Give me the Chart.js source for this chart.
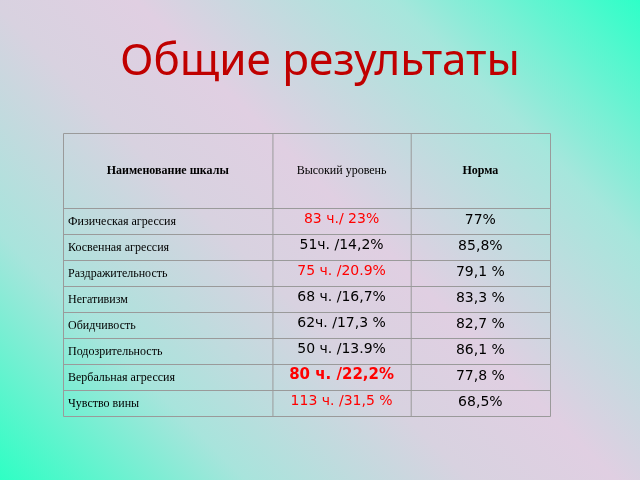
<!DOCTYPE html>
<html><head><meta charset="utf-8">
<script src="https://cdn.jsdelivr.net/npm/chart.js@4/dist/chart.umd.min.js"></script>
<style>
html,body{margin:0;padding:0;width:640px;height:480px;overflow:hidden;
background:linear-gradient(45deg,#2effc4 0%,#a8e4dc 22%,#d8d2e0 42%,#e0cfe2 55%,#a6e6dc 78%,#2effc8 100%);}
#c{display:block}
</style></head><body>
<canvas id="c" width="640" height="480"></canvas>
<script>
const title = "Общие результаты";
const headers = ["Наименование шкалы","Высокий уровень","Норма"];
const scales = ["Физическая агрессия","Косвенная агрессия","Раздражительность","Негативизм","Обидчивость","Подозрительность","Вербальная агрессия","Чувство вины"];
const highLevel = ["83 ч./ 23%","51ч. /14,2%","75 ч. /20.9%","68 ч. /16,7%","62ч. /17,3 %","50 ч. /13.9%","80 ч. /22,2%","113 ч. /31,5 %"];
const highRed = [true,false,true,false,false,false,true,true];
const norm = ["77%","85,8%","79,1 %","83,3 %","82,7 %","86,1 %","77,8 %","68,5%"];
const colEdges = [0,209,347,486];

const tablePlugin = {
  id:'table',
  afterDraw(chart){
    const ctx = chart.ctx;
    const xs = chart.scales.x, ys = chart.scales.y;
    const L = xs.getPixelForValue(colEdges[0]), R = xs.getPixelForValue(colEdges[3]);
    const c1 = xs.getPixelForValue(colEdges[1]), c2 = xs.getPixelForValue(colEdges[2]);
    const T = ys.getPixelForValue(0), B = ys.getPixelForValue(scales.length+2.9);
    ctx.save();
    ctx.fillStyle='#c00000'; ctx.textAlign='center'; ctx.textBaseline='middle';
    ctx.font='44px "Noto Sans"';
    ctx.fillText(title,320,62);
    ctx.strokeStyle = '#9a9a9a'; ctx.lineWidth = 1;
    ctx.beginPath();
    ctx.rect(L+0.5,T+0.5,R-L,B-T);
    ctx.moveTo(c1+0.5,T); ctx.lineTo(c1+0.5,B);
    ctx.moveTo(c2+0.5,T); ctx.lineTo(c2+0.5,B);
    for(let i=0;i<scales.length;i++){
      const y = Math.round(ys.getPixelForValue(2.9+i))+0.5;
      ctx.moveTo(L,y); ctx.lineTo(R,y);
    }
    ctx.stroke();
    ctx.fillStyle='#000';
    ctx.font='bold 12px "Liberation Serif"';
    const hy = ys.getPixelForValue(1.45);
    ctx.fillText(headers[0],(L+c1)/2,hy);
    ctx.font='12px "Liberation Serif"';
    ctx.fillText(headers[1],(c1+c2)/2,hy);
    ctx.font='bold 12px "Liberation Serif"';
    ctx.fillText(headers[2],(c2+R)/2,hy);
    scales.forEach((s,i)=>{
      const y = ys.getPixelForValue(2.9+i+0.5);
      ctx.textAlign='left'; ctx.fillStyle='#000';
      ctx.font='12px "Liberation Serif"';
      ctx.fillText(s,L+5,y+1);
      ctx.textAlign='center';
      ctx.fillStyle = highRed[i] ? '#ff0000' : '#000';
      ctx.font = (i===6?'bold 15px':'14px')+' "DejaVu Sans"';
      ctx.fillText(highLevel[i],(c1+c2)/2,y-2);
      ctx.fillStyle='#000'; ctx.font='14px "DejaVu Sans"';
      ctx.fillText(norm[i],(c2+R)/2,y-1);
    });
    ctx.restore();
  }
};

new Chart(document.getElementById('c'),{
  type:'scatter',
  data:{datasets:[{data:[],pointRadius:0}]},
  options:{
    responsive:false, animation:false,
    layout:{padding:{left:63,right:90,top:133,bottom:64}},
    plugins:{legend:{display:false},tooltip:{enabled:false},title:{display:false}},
    scales:{
      x:{type:'linear',min:colEdges[0],max:colEdges[3],display:false},
      y:{type:'linear',min:0,max:scales.length+2.9,reverse:true,display:false}
    }
  },
  plugins:[tablePlugin]
});
</script>
</body></html>
